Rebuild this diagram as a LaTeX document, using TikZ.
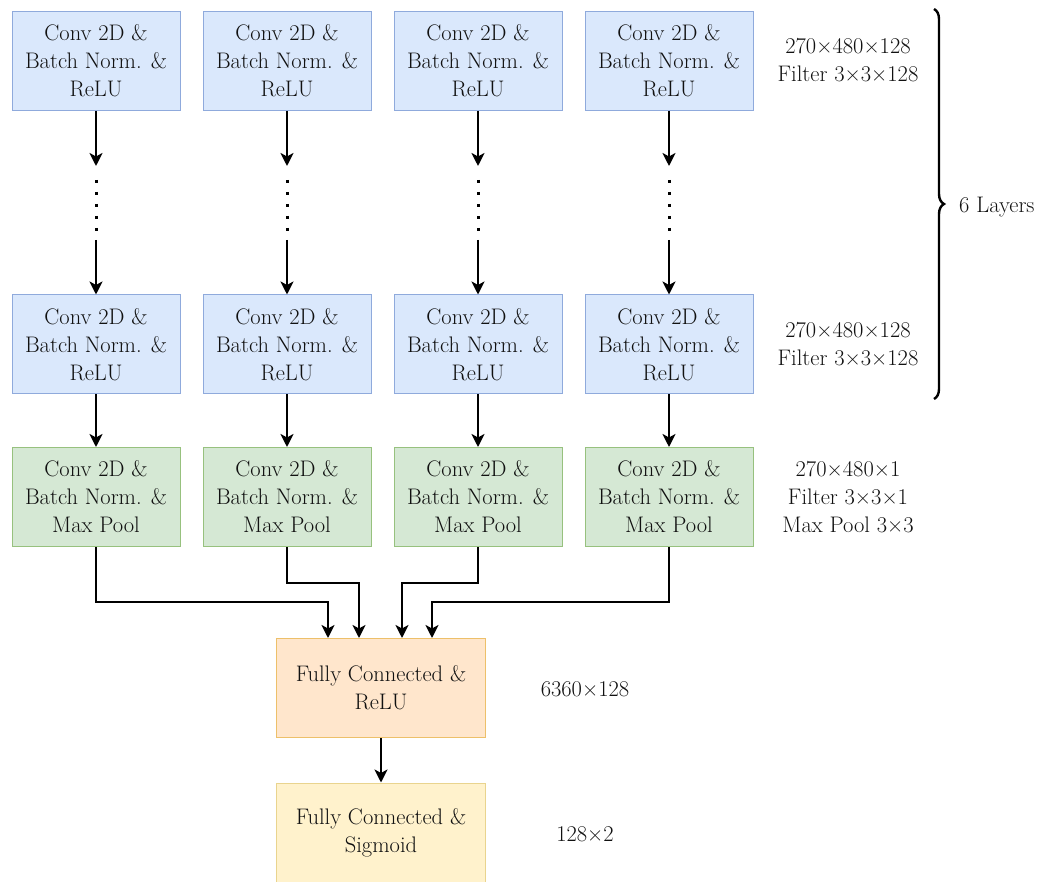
\documentclass[tikz,border=0pt]{standalone}
\usepackage{fontspec}
\usetikzlibrary{arrows.meta,decorations.pathreplacing}
\definecolor{bluefill}{HTML}{DAE8FC}
\definecolor{bluedraw}{HTML}{8FAADC}
\definecolor{greenfill}{HTML}{D5E8D4}
\definecolor{greendraw}{HTML}{97C17E}
\definecolor{orangefill}{HTML}{FFE6CC}
\definecolor{orangedraw}{HTML}{EDC06A}
\definecolor{yellowfill}{HTML}{FFF2CC}
\definecolor{yellowdraw}{HTML}{E9D48E}
\definecolor{ink}{HTML}{111111}
\begin{document}
\begin{tikzpicture}[x=1pt,y=-1pt,
  every node/.style={font=\fontsize{22.5}{28}\selectfont, text=ink, align=center},
  box/.style={draw, line width=1pt, minimum width=168pt, minimum height=99pt, inner sep=0pt},
  convbox/.style={box, fill=bluefill, draw=bluedraw},
  poolbox/.style={box, fill=greenfill, draw=greendraw},
  fcbox/.style={box, minimum width=209pt, fill=orangefill, draw=orangedraw},
  outbox/.style={box, minimum width=209pt, fill=yellowfill, draw=yellowdraw},
  arr/.style={draw=black, line width=2.4pt, -{Stealth[length=13pt,width=13pt,inset=3.5pt]}},
  dotline/.style={draw=black, line width=3pt, dash pattern=on 3pt off 9pt},
  note/.style={inner sep=0pt}
]
\useasboundingbox (0,0) rectangle (1044,882);

% columns of convolution blocks
\foreach \i/\x in {1/96,2/287,3/478,4/669}{
  \node[convbox] (top\i) at (\x,61) {Conv 2D \&\\Batch Norm. \&\\ReLU};
  \node[convbox] (mid\i) at (\x,344.5) {Conv 2D \&\\Batch Norm. \&\\ReLU};
  \node[poolbox] (pool\i) at (\x,497) {Conv 2D \&\\Batch Norm. \&\\Max Pool};
  \coordinate (gapA\i) at (\x,166);
  \coordinate (dotA\i) at (\x,180);
  \coordinate (dotB\i) at (\x,231);
  \coordinate (gapB\i) at (\x,240);
  \draw[arr] (top\i.south) -- (gapA\i);
  \draw[dotline] (dotA\i) -- (dotB\i);
  \draw[arr] (gapB\i) -- (mid\i.north);
  \draw[arr] (mid\i.south) -- (pool\i.north);
}

% fully connected layers
\node[fcbox] (fc) at (381,688) {Fully Connected \&\\ReLU};
\node[outbox] (out) at (381,832.5) {Fully Connected \&\\Sigmoid};
\draw[arr] (fc.south) -- (out.north);

% merging the four branches
\draw[arr] (pool1.south) |- (328,602) -- ([xshift=-53pt]fc.north);
\draw[arr] (pool2.south) |- (359,583) -- ([xshift=-22pt]fc.north);
\draw[arr] (pool3.south) |- (402,583) -- ([xshift=21pt]fc.north);
\draw[arr] (pool4.south) |- (432,602) -- ([xshift=51pt]fc.north);

% layer sizes
\node[note] (s1) at (848,60) {270×480×128\\Filter 3×3×128};
\node[note] (s2) at (848,344) {270×480×128\\Filter 3×3×128};
\node[note] (s3) at (848,497) {270×480×1\\Filter 3×3×1\\Max Pool 3×3};
\node[note] (s4) at (585,689) {6360×128};
\node[note] (s5) at (585,834) {128×2};

% brace over the repeated layers
\coordinate (brT) at (934,9);
\coordinate (brB) at (934,399);
\draw[line width=2.4pt, decorate, decoration={brace, amplitude=10pt}] (brT) -- (brB);
\node[note, anchor=west] (layers) at (959,207) {6 Layers};
\end{tikzpicture}
\end{document}
